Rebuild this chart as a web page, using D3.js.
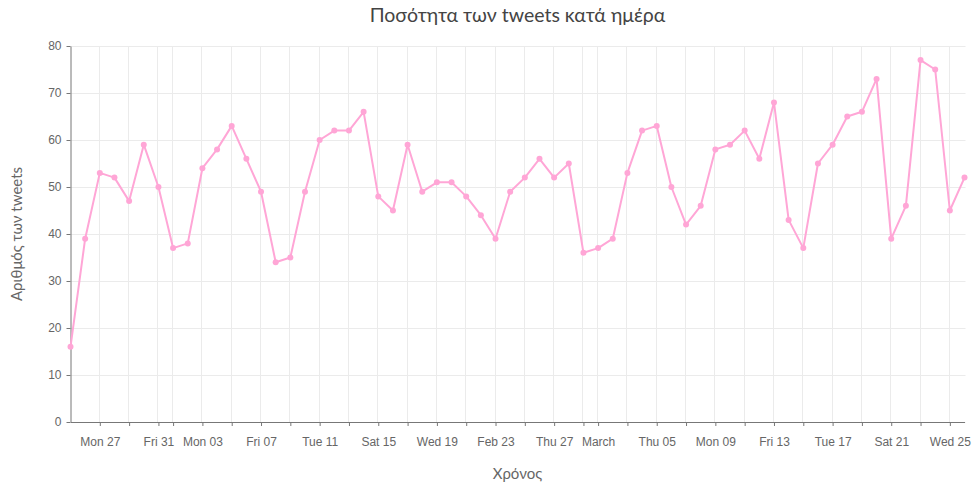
<!DOCTYPE html>
<html>
<head>
<meta charset="utf-8">
<script src="https://cdn.jsdelivr.net/npm/d3@7"></script>
<style>
  html, body { margin: 0; padding: 0; background: #fff; }
  svg { display: block; font-family: "Lato", "Noto Sans", sans-serif; }
</style>
</head>
<body>
<svg id="chart" width="975" height="486"></svg>
<script>
const startDate = "2020-01-25";
const counts = [16, 39, 53, 52, 47, 59, 50, 37, 38, 54, 58, 63, 56, 49, 34, 35, 49, 60, 62, 62,
  66, 48, 45, 59, 49, 51, 51, 48, 44, 39, 49, 52, 56, 52, 55, 36, 37, 39, 53, 62,
  63, 50, 42, 46, 58, 59, 62, 56, 68, 43, 37, 55, 59, 65, 66, 73, 39, 46, 77, 75, 45, 52];
const yTicks = [0, 10, 20, 30, 40, 50, 60, 70, 80];
const title = "Ποσότητα των tweets κατά ημέρα";
const xLabel = "Χρόνος";
const yLabel = "Αριθμός των tweets";

(function () {
const parse = d3.timeParse("%Y-%m-%d");
const d0 = parse(startDate);
const data = counts.map((v, i) => ({ date: d3.timeDay.offset(d0, i), value: v }));

const svg = d3.select("#chart");
const mLeft = 70.5, mRight = 964.5, mTop = 46, mBottom = 422;

const x = d3.scaleTime()
  .domain(d3.extent(data, d => d.date))
  .range([mLeft, mRight]);
const y = d3.scaleLinear().domain([0, 80]).range([mBottom, mTop]);

const xTickVals = x.ticks(d3.timeDay.every(2)).filter(d => x(d) > mLeft + 1);

const fmtMonth = d3.timeFormat("%B"), fmtWeek = d3.timeFormat("%b %d"), fmtDay = d3.timeFormat("%a %d");
function multiFormat(date) {
  if (d3.timeMonth(date) < date) {
    if (d3.timeWeek(date) < date) return fmtDay(date);
    return fmtWeek(date);
  }
  return fmtMonth(date);
}

// grid
const grid = svg.append("g");
grid.selectAll("line.h").data(yTicks).join("line")
  .attr("x1", mLeft).attr("x2", mRight + 1)
  .attr("y1", d => Math.round(y(d)) + 0.5).attr("y2", d => Math.round(y(d)) + 0.5)
  .attr("stroke", "#ebebeb").attr("stroke-width", 1);
grid.selectAll("line.v").data(xTickVals).join("line")
  .attr("x1", d => Math.round(x(d)) - 0.5).attr("x2", d => Math.round(x(d)) - 0.5)
  .attr("y1", mTop).attr("y2", mBottom)
  .attr("stroke", "#ebebeb").attr("stroke-width", 1);

// axes
const xAxis = svg.append("g")
  .attr("transform", `translate(0,${mBottom})`)
  .call(d3.axisBottom(x).tickValues(xTickVals).tickSize(4).tickSizeOuter(0)
    .tickFormat((d, i) => i % 2 === 0 ? multiFormat(d) : ""));
xAxis.select(".domain").attr("stroke", "#777");
xAxis.selectAll(".tick line").attr("stroke", "#777");
xAxis.selectAll(".tick text").attr("fill", "#666").attr("font-size", 12).attr("dy", "1.45em");

const yAxis = svg.append("g")
  .attr("transform", `translate(${mLeft},0)`)
  .call(d3.axisLeft(y).tickValues(yTicks).tickSize(4).tickSizeOuter(0));
yAxis.select(".domain").attr("stroke", "#777");
yAxis.selectAll(".tick line").attr("stroke", "#777");
yAxis.selectAll(".tick text").attr("fill", "#666").attr("font-size", 12).attr("x", -9);

// line
const line = d3.line().x(d => x(d.date)).y(d => y(d.value));
svg.append("path").datum(data)
  .attr("fill", "none").attr("stroke", "#ffa6d6").attr("stroke-width", 2)
  .attr("stroke-linejoin", "round")
  .attr("d", line);
svg.append("g").selectAll("circle").data(data).join("circle")
  .attr("cx", d => x(d.date)).attr("cy", d => y(d.value)).attr("r", 3)
  .attr("fill", "#ffa6d6");

// labels
svg.append("text").attr("x", (mLeft + mRight) / 2).attr("y", 22)
  .attr("text-anchor", "middle").attr("font-size", 19.5).attr("fill", "#444").text(title);
svg.append("text").attr("x", (mLeft + mRight) / 2).attr("y", 479)
  .attr("text-anchor", "middle").attr("font-size", 15).attr("fill", "#666").text(xLabel);
svg.append("text").attr("transform", `translate(22,${(mTop + mBottom) / 2}) rotate(-90)`)
  .attr("text-anchor", "middle").attr("font-size", 15).attr("fill", "#666").text(yLabel);
})();
</script>
</body>
</html>
